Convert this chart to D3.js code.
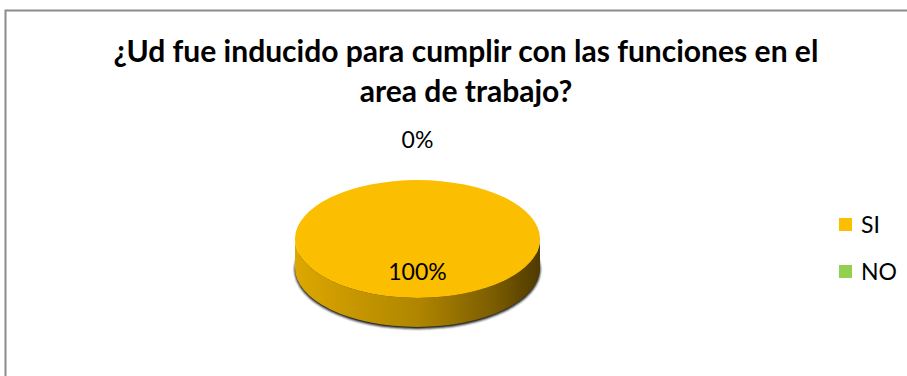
<!DOCTYPE html>
<html><head><meta charset="utf-8">
<script src="https://cdn.jsdelivr.net/npm/d3@7"></script>
<style>html,body{margin:0;padding:0;background:#fff;overflow:hidden}</style>
</head><body>
<svg id="c" width="907" height="376"></svg>
<script>
const titleLines = ["¿Ud fue inducido para cumplir con las funciones en el", "area de trabajo?"];
const categories = ["SI", "NO"];
const values = [100, 0];
const colors = ["#FBBE00", "#92D050"];

const W = 907, H = 376;
const svg = d3.select("#c");
const font = "Lato, 'Open Sans', sans-serif";

// frame
svg.append("rect").attr("x", 5.5).attr("y", 10.5).attr("width", 1000).attr("height", 1000)
  .attr("fill", "#fff").attr("stroke", "#8c8c8c").attr("stroke-width", 2);

// title
const tg = svg.append("g").attr("font-family", font).attr("font-weight", "bold").attr("fill", "#000").attr("text-anchor", "middle");
const t1 = tg.append("text").attr("x", 466).attr("y", 62).attr("font-size", 27).text(titleLines[0]);
const w1 = t1.node().getComputedTextLength();
const fs = 27 * 705 / w1;
t1.attr("font-size", fs);
tg.append("text").attr("x", 466).attr("y", 102).attr("font-size", fs).text(titleLines[1]);

// 3D pie
const cx = 417.5, cy = 239, rx = 122.5, ry = 59, depth = 29;
const pie = d3.pie().sort(null).value(d => d);
const arcsData = pie(values);
const color = d3.scaleOrdinal().domain(categories).range(colors);

const defs = svg.append("defs");
const grad = defs.append("linearGradient").attr("id", "side").attr("gradientUnits", "userSpaceOnUse")
  .attr("x1", cx - rx).attr("x2", cx + rx).attr("y1", 0).attr("y2", 0);
[[0, "#dca700"], [0.15, "#cf9d00"], [0.5, "#b08600"], [0.8, "#7d5e00"], [1, "#4f3a00"]]
  .forEach(([o, c]) => grad.append("stop").attr("offset", o).attr("stop-color", c));
defs.append("filter").attr("id", "blur").append("feGaussianBlur").attr("stdDeviation", 1.2);

// shadow
svg.append("ellipse").attr("cx", cx).attr("cy", cy + depth + 1.5).attr("rx", rx + 0.5).attr("ry", ry + 0.5)
  .attr("fill", "#1a1a1a").attr("filter", "url(#blur)");

const ex = a => cx + rx * Math.sin(a);
const ey = a => cy - ry * Math.cos(a);

// sides (front half only)
arcsData.forEach((d, i) => {
  const a0 = Math.max(d.startAngle, Math.PI / 2), a1 = Math.min(d.endAngle, 3 * Math.PI / 2);
  if (a1 <= a0) return;
  const p = `M${ex(a0)},${ey(a0)} A${rx},${ry} 0 0 1 ${ex(a1)},${ey(a1)} L${ex(a1)},${ey(a1) + depth} A${rx},${ry} 0 0 0 ${ex(a0)},${ey(a0) + depth} Z`;
  svg.append("path").attr("d", p).attr("fill", i === 0 ? "url(#side)" : d3.color(color(categories[i])).darker(1));
});

// top
const arc = d3.arc().innerRadius(0).outerRadius(rx);
svg.append("g").attr("transform", `translate(${cx},${cy}) scale(1,${ry / rx})`)
  .selectAll("path").data(arcsData).join("path")
  .attr("d", arc).attr("fill", (d, i) => color(categories[i]));

// labels
const total = d3.sum(values);
const lg = svg.append("g").attr("font-family", font).attr("font-size", 23).attr("fill", "#000").attr("text-anchor", "middle");
arcsData.forEach((d, i) => {
  const m = (d.startAngle + d.endAngle) / 2;
  const pct = Math.round(100 * values[i] / total) + "%";
  let x, y;
  if (d.endAngle - d.startAngle > 0.3) {
    x = cx + 0.55 * rx * Math.sin(m); y = cy - 0.55 * ry * Math.cos(m);
  } else {
    x = cx + (rx + 40) * Math.sin(m); y = cy - (ry + 40) * Math.cos(m);
  }
  lg.append("text").attr("x", x).attr("y", y).attr("dy", "0.36em").text(pct);
});

// legend
const ly = d3.scalePoint().domain(categories).range([225, 272]);
const leg = svg.append("g").attr("font-family", font).attr("font-size", 23);
categories.forEach(c => {
  leg.append("rect").attr("x", 839).attr("y", ly(c) - 7).attr("width", 13).attr("height", 13).attr("fill", color(c));
  leg.append("text").attr("x", 861).attr("y", ly(c)).attr("dy", "0.36em").text(c);
});
</script>
</body></html>
